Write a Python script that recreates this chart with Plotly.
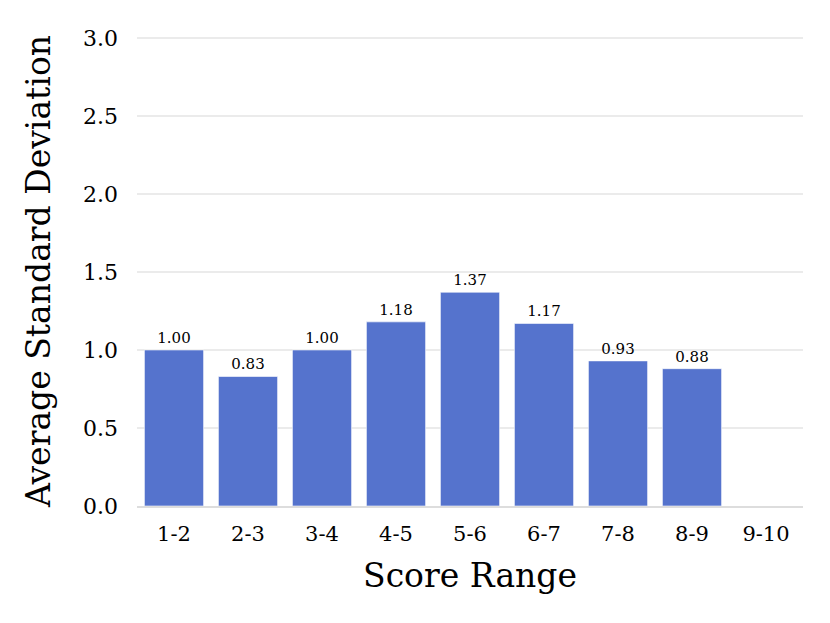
import plotly.graph_objects as go

categories = ["1-2", "2-3", "3-4", "4-5", "5-6", "6-7", "7-8", "8-9", "9-10"]
values = [1.00, 0.83, 1.00, 1.18, 1.37, 1.17, 0.93, 0.88, None]
labels = ["1.00", "0.83", "1.00", "1.18", "1.37", "1.17", "0.93", "0.88", ""]
y_ticks = [0.0, 0.5, 1.0, 1.5, 2.0, 2.5, 3.0]

FONT = "DejaVu Serif"

fig = go.Figure(
    go.Bar(
        x=categories,
        y=values,
        text=labels,
        textposition="outside",
        textfont=dict(family=FONT, size=15, color="black"),
        cliponaxis=False,
        marker=dict(color="#5573CD", line=dict(color="rgba(255,255,255,0.6)", width=1)),
        width=0.8,
    )
)

# page body adds an 8px offset, so figure is sized to fit the window
fig.update_layout(
    width=822,
    height=615,
    margin=dict(l=129, r=27, t=28, b=117),
    plot_bgcolor="white",
    paper_bgcolor="white",
    showlegend=False,
    font=dict(family=FONT, color="black"),
)

fig.update_xaxes(
    title=dict(text="Score Range", font=dict(family=FONT, size=33), standoff=19),
    tickfont=dict(family=FONT, size=21),
    showgrid=False,
    showline=True,
    linecolor="#DDDDDD",
    linewidth=2,
    ticks="",
    ticklabelstandoff=8,
)

fig.update_yaxes(
    title=dict(text="Average Standard Deviation", font=dict(family=FONT, size=33), standoff=22),
    tickfont=dict(family=FONT, size=22),
    range=[0, 3.012],
    tickvals=y_ticks,
    tickformat=".1f",
    showgrid=True,
    gridcolor="#EBEBEB",
    gridwidth=1.5,
    zeroline=False,
    ticks="",
    ticklabelstandoff=18,
)

fig.write_html("out.html")
